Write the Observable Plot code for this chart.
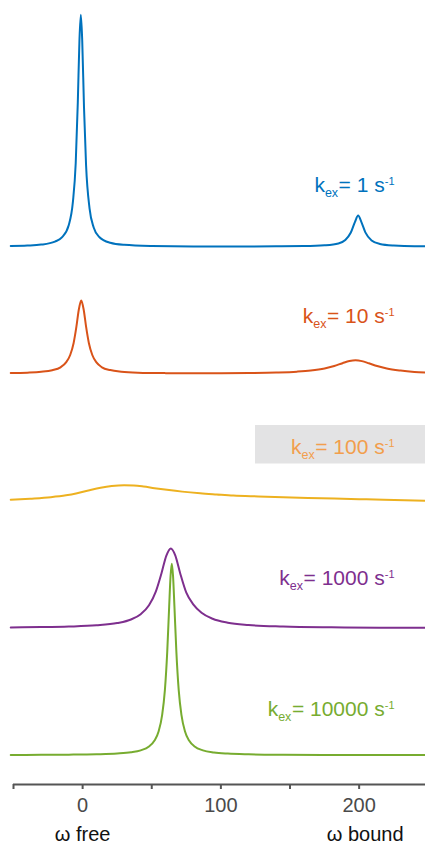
<!DOCTYPE html>
<html><head><meta charset="utf-8">
<script src="https://cdn.jsdelivr.net/npm/d3@7"></script>
<script src="https://cdn.jsdelivr.net/npm/@observablehq/plot@0.6"></script>
<style>body{margin:0;background:#fff} #chart svg{display:block}</style>
</head><body><div id="chart"></div>
<script>
// ---- data ----
const kexValues = [1, 10, 100, 1000, 10000];
const seriesColors = ["#0072BD", "#D95319", "#EDB120", "#7E2F8E", "#77AC30"];
const labelColors = ["#0072BD", "#D95319", "#F29E4C", "#7E2F8E", "#77AC30"];
const highlighted = 2;
const xTicks = [-50, 0, 50, 100, 150, 200];
const xTickLabels = ["", "0", "", "100", "", "200"];
const axisLabels = ["ω free", "ω bound"];
const axisLabelAt = [0, 200];

const omega1 = [-52, -40, -30, -20, -15, -10, -7, -5, -3.5, -2.3, -1.3, -0.3, 1, 2.5, 5, 8, 12, 20, 30, 50, 80, 110, 140, 160, 175, 185, 190, 194, 197, 199.3, 201.5, 204.5, 209, 215, 225, 240, 248];
const intensity1 = [0.3, 0.5, 0.9, 2.2, 4.0, 9.4, 19.5, 36, 62, 89, 100, 89, 60, 35, 16.5, 8.3, 4.2, 1.7, 0.8, 0.3, 0.1, 0.1, 0.15, 0.25, 0.6, 1.4, 2.9, 6.1, 10.7, 13.4, 10.8, 6.2, 2.7, 1.2, 0.5, 0.2, 0.2];

const omega2 = [-52, -40, -30, -22, -16, -12, -9, -6.5, -4.5, -2.8, -1, 0.8, 2.5, 4.5, 7, 10, 14, 20, 28, 40, 60, 80, 100, 120, 140, 155, 165, 175, 182, 188, 193, 197.4, 202, 207, 213, 220, 230, 240, 248];
const intensity2 = [0.3, 0.49, 0.86, 1.55, 2.8, 4.9, 8.1, 13.3, 20.3, 27.5, 31.6, 27.5, 20.3, 13.3, 8.1, 4.9, 2.8, 1.6, 0.9, 0.48, 0.29, 0.24, 0.26, 0.35, 0.56, 0.92, 1.4, 2.3, 3.37, 4.58, 5.49, 5.82, 5.47, 4.54, 3.33, 2.27, 1.38, 0.8, 0.5];

const omega3 = [-52, -38, -23, -12, -4, 5, 13, 21, 30, 37, 44, 52, 61, 72, 85, 97, 109, 127, 145, 163, 182, 200, 218, 233, 248];
const intensity3 = [0.47, 0.95, 1.6, 2.4, 3.3, 4.6, 5.65, 6.4, 6.77, 6.65, 6.2, 5.5, 4.78, 4.0, 3.3, 2.8, 2.33, 1.95, 1.6, 1.3, 1.03, 0.75, 0.47, 0.25, 0.04];

const omega4 = [-52, -30, -10, 10, 25, 35, 42, 48, 53, 57, 60.5, 63.8, 67, 70.5, 75, 80, 86, 94, 105, 120, 145, 180, 215, 248];
const intensity4 = [0.25, 0.38, 0.62, 1.14, 2.13, 3.68, 5.95, 9.8, 15.8, 23.5, 31.1, 34.3, 31.3, 23.7, 15.2, 10.2, 6.6, 4.0, 2.3, 1.3, 0.65, 0.3, 0.15, 0.1];

const omega5 = [-52, -30, -10, 10, 25, 35, 42, 48, 52, 55, 57.5, 59.5, 61.2, 62.6, 63.6, 64.5, 65.4, 66.4, 67.8, 69.5, 71.5, 74, 77, 81, 87, 95, 105, 120, 145, 180, 215, 248];
const intensity5 = [0.08, 0.12, 0.19, 0.36, 0.68, 1.2, 2.05, 3.73, 6.28, 10.3, 17.2, 28, 44.6, 64.1, 77.2, 82.5, 77.2, 64.1, 44.6, 28, 17.2, 10.3, 6.28, 3.73, 2.05, 1.13, 0.64, 0.34, 0.16, 0.08, 0.05, 0.03];

const omegas = [omega1, omega2, omega3, omega4, omega5];
const intensities = [intensity1, intensity2, intensity3, intensity4, intensity5];

// ---- layout ----
const W = 425, H = 845, ML = 13, MR = 0, MT = 0, MB = 61;
const xDomain = [-50, 248];
const PXU = 2.32;                 // pixels per intensity unit
const yMin = -29.4 / PXU;
const yMax = yMin + (H - MB - MT) / PXU;
const STEP = 127.1 / PXU;         // vertical stacking step
const xAt = px => xDomain[0] + (px - ML) * (xDomain[1] - xDomain[0]) / (W - ML - MR);
const yAt = px => yMin + (H - MB - px) / PXU;
const labelX = xAt(394);
const labelY = i => yAt(185 + 131 * i);

const n = kexValues.length;
const lineMarks = omegas.map((om, i) => {
  const pts = om.map((w, j) => ({omega: w, y: intensities[i][j] + (n - 1 - i) * STEP}));
  return Plot.line(pts, {x: "omega", y: "y", stroke: seriesColors[i], strokeWidth: 2, curve: "monotone-x"});
});

const labelMarks = kexValues.map((k, i) =>
  Plot.text([k], {x: labelX, y: labelY(i), text: d => "KEX:" + d, textAnchor: "end", fill: labelColors[i], fontSize: 21})
);

const svg = Plot.plot({
  width: W, height: H, marginLeft: ML, marginRight: MR, marginTop: MT, marginBottom: MB,
  style: {fontFamily: "'Liberation Sans', Arial, sans-serif", fontSize: "20px", color: "#4a4a4a", background: "#fff"},
  x: {domain: xDomain, ticks: xTicks, tickFormat: d => xTickLabels[xTicks.indexOf(d)], tickSize: 5, tickPadding: 8.5, label: null},
  y: {domain: [yMin, yMax], axis: null},
  marks: [
    Plot.rect([highlighted], {x1: xAt(255), x2: xDomain[1], y1: yAt(463.5), y2: yAt(425), fill: "#E3E3E4"}),
    ...lineMarks,
    ...labelMarks,
    Plot.ruleY([yMin], {stroke: "#555", strokeWidth: 2}),
    Plot.text([axisLabels[0]], {x: axisLabelAt[0], y: yAt(834), text: d => d, fill: "#111", fontSize: 20}),
    Plot.text([axisLabels[1]], {x: axisLabelAt[1], y: yAt(834), dx: 6, text: d => d, fill: "#111", fontSize: 20})
  ]
});

// rich-text labels: k_ex = N s^-1
d3.select(svg).selectAll("text").each(function () {
  const t = d3.select(this);
  const s = t.text();
  if (!s.startsWith("KEX:")) return;
  const v = s.slice(4);
  t.text(null);
  t.append("tspan").text("k");
  t.append("tspan").attr("font-size", 12.5).attr("dy", 4.5).text("ex");
  t.append("tspan").attr("dy", -4.5).attr("dx", 0.5).text("= " + v + " s");
  t.append("tspan").attr("font-size", 11).attr("dy", -7.5).text("-1");
});
// thicker ticks
d3.select(svg).selectAll('[aria-label^="x-axis"] path, [aria-label^="x-axis"] line').attr("stroke-width", 2).attr("stroke", "#555");

document.getElementById("chart").appendChild(svg);
</script>
</body></html>
